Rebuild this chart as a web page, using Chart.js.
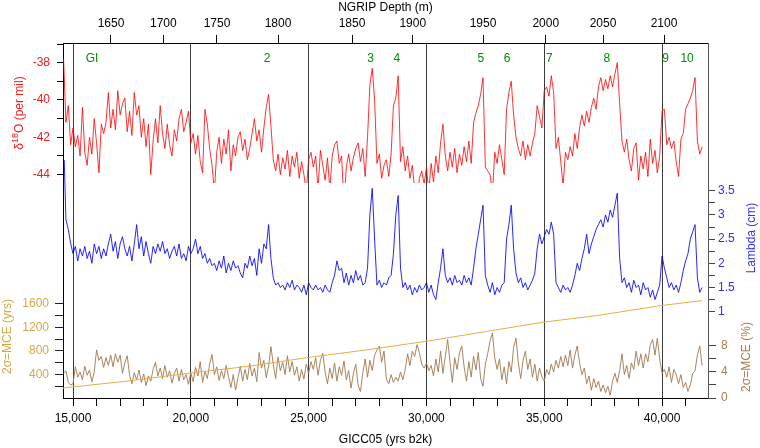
<!DOCTYPE html>
<html><head><meta charset="utf-8">
<script src="https://cdn.jsdelivr.net/npm/chart.js@4.4.1/dist/chart.umd.min.js"></script>
<style>html,body{margin:0;padding:0;background:#fff;}canvas{display:block;}</style>
</head><body>
<canvas id="c" width="760" height="448"></canvas>
<script>
// ---- data (GICC05 age grid, 100-yr sampling from 14600 yrs b2k) ----
const ageStart = 14600, ageStep = 100;
const d18O = [
-37.8,-41.2,-40.3,-42.4,-41.5,-42.5,-41.9,-43.0,-40.4,-42.8,
-43.5,-42.0,-42.9,-41.0,-42.3,-43.9,-41.3,-41.8,-41.2,-39.6,
-41.5,-40.5,-41.6,-39.5,-40.8,-40.2,-39.9,-41.7,-40.6,-41.9,
-39.6,-40.8,-40.3,-42.0,-41.0,-42.5,-41.3,-44.0,-42.2,-41.0,
-42.3,-40.3,-41.8,-42.6,-41.3,-42.4,-43.0,-41.6,-42.2,-41.0,
-40.5,-41.7,-41.2,-40.6,-42.3,-41.8,-42.9,-41.9,-43.3,-43.9,
-40.5,-41.3,-42.6,-43.5,-44.9,-42.8,-42.0,-43.4,-42.1,-42.9,
-41.6,-43.8,-42.4,-43.0,-42.0,-41.7,-42.7,-42.1,-43.2,-42.6,
-41.8,-41.0,-42.2,-41.6,-42.8,-41.5,-40.4,-39.7,-41.4,-43.2,
-43.8,-42.9,-44.0,-43.1,-43.7,-42.7,-44.1,-43.0,-43.6,-42.8,
-44.2,-43.3,-44.0,-44.9,-43.2,-42.8,-43.6,-43.0,-44.8,-42.7,
-43.5,-44.3,-43.1,-44.8,-43.0,-42.4,-42.2,-43.4,-43.0,-45.6,
-43.6,-42.9,-43.8,-43.1,-42.6,-42.3,-43.3,-42.6,-44.1,-42.0,
-39.2,-38.3,-40.0,-43.4,-42.9,-44.2,-43.5,
-43.2,-44.1,-42.9,-40.3,-39.9,-38.7,-43.3,-42.5,-43.8,-43.0,
-44.2,-43.5,-44.8,-45.5,-44.2,-43.8,-44.5,-43.6,-44.9,-43.4,
-44.4,-43.0,-43.9,-42.3,-41.3,-43.0,-43.8,-42.8,-43.6,-42.6,
-43.9,-42.9,-43.5,-42.5,-43.3,-42.2,-43.4,-41.2,-40.7,-40.3,
-39.7,-38.8,-43.6,-43.8,-44.0,-45.0,-42.8,-43.4,-42.4,-43.2,
-44.0,-40.5,-39.6,-39.0,-40.8,-42.0,-42.6,-43.0,-42.2,-43.2,
-42.4,-43.0,-42.3,-41.8,-40.3,-40.9,-41.5,-39.5,-39.3,-39.8,
-38.7,-39.6,-42.6,-42.0,-43.3,-44.6,-42.8,-43.2,-42.5,-43.0,
-41.8,-42.6,-41.5,-40.8,-41.4,-40.6,-41.2,-40.4,-39.9,-40.5,
-39.3,-38.8,-39.5,-38.9,-39.4,-38.7,-39.3,-38.6,-38.0,-40.2,
-42.2,-42.8,-42.1,-43.2,-43.8,-42.6,-42.3,-44.3,-43.0,-43.7,
-42.8,-44.1,-42.1,-43.4,-42.7,-43.9,-43.0,-40.6,-40.5,-42.4,
-42.0,-42.6,-42.2,-43.3,-44.1,-42.1,-41.8,-40.5,-40.2,-39.9,
-39.5,-38.8,-42.2,-42.9,-42.5
];
const lambda = [
4.6,2.9,2.7,2.41,2.2,2.35,2.05,2.3,2.15,2.35,
2.1,2.25,2.0,2.4,2.2,2.35,2.1,2.3,2.15,2.4,
2.6,2.25,2.45,2.1,2.4,2.55,2.3,2.15,2.35,2.05,
2.4,2.8,2.3,2.55,2.15,2.45,2.2,2.0,2.35,2.2,
2.4,2.25,2.45,2.2,2.3,2.1,2.25,2.35,2.15,2.4,
2.1,2.2,2.05,2.35,2.2,2.3,2.5,2.2,2.35,2.1,
2.2,2.0,2.1,1.95,2.0,1.85,2.05,1.9,2.15,1.8,
2.0,1.85,2.05,1.9,1.95,1.8,1.7,2.0,1.9,2.15,
1.95,2.1,1.75,2.3,2.0,2.4,2.3,2.8,2.1,1.7,
1.55,1.6,1.5,1.55,1.45,1.6,1.5,1.65,1.45,1.55,
1.5,1.4,1.55,1.35,1.6,1.5,1.45,1.55,1.45,1.5,
1.4,1.55,1.45,1.4,1.6,1.75,2.05,1.85,1.9,1.6,
1.8,1.55,1.75,1.6,1.85,1.65,1.75,1.55,1.6,1.9,
3.0,3.55,2.5,1.55,1.65,1.5,1.6,
1.55,1.7,1.75,2.2,3.0,3.4,1.9,1.5,1.6,1.45,
1.55,1.35,1.5,1.4,1.55,1.45,1.5,1.6,1.4,1.55,
1.35,1.25,1.6,1.9,2.3,1.75,1.6,1.7,1.55,1.75,
1.6,1.65,1.55,1.75,1.6,1.7,1.55,1.9,2.3,2.6,
2.9,3.2,1.75,1.55,1.4,1.6,1.35,1.5,1.4,1.55,
1.6,2.5,2.8,3.2,2.3,1.8,1.6,1.7,1.5,1.6,
1.45,1.55,1.65,1.8,2.3,2.6,2.4,2.55,2.7,2.6,
2.85,2.6,1.6,1.5,1.4,1.55,1.45,1.5,1.4,1.55,
1.75,2.0,1.85,2.1,2.3,2.6,2.2,2.4,2.55,2.7,
2.8,2.9,2.75,3.0,2.85,3.1,2.95,3.2,3.45,2.1,
1.6,1.7,1.5,1.6,1.4,1.65,1.5,1.55,1.35,1.6,
1.45,1.5,1.3,1.45,1.25,1.4,1.55,2.15,1.9,1.7,
1.5,1.6,1.45,1.55,1.4,1.6,1.85,2.05,2.2,2.5,
2.65,2.8,1.7,1.4,1.5
];
const mcePct = [
3.8,4.2,2.4,2.0,2.2,4.8,3.2,4.0,2.8,4.9,
3.5,4.3,2.5,4.0,7.4,5.8,6.4,4.7,6.2,5.0,
6.6,4.8,6.8,5.5,6.6,3.8,5.4,6.5,3.5,2.2,
3.9,2.8,4.3,2.4,3.7,1.9,3.4,2.6,4.4,5.5,
3.4,4.6,3.0,5.0,3.2,4.2,2.3,3.8,4.6,2.6,
4.4,2.8,3.6,2.1,3.9,2.5,4.7,3.4,5.6,2.4,
4.1,3.0,5.2,6.7,3.6,4.8,2.7,4.2,3.0,5.0,
3.3,1.6,3.6,1.2,3.1,4.9,2.6,4.4,2.8,5.3,
3.4,4.6,2.5,7.0,4.6,5.8,3.1,4.9,7.9,5.2,
3.0,6.3,4.2,5.5,3.6,6.5,4.0,5.6,3.5,4.8,
2.6,4.4,2.9,5.2,3.8,5.6,4.4,6.2,3.5,5.8,
6.9,4.0,2.2,4.6,3.0,5.4,2.6,4.8,3.5,5.7,
2.8,4.2,1.5,3.8,5.2,2.0,1.0,3.9,6.0,3.2,
5.8,4.2,6.6,7.4,8.0,5.5,7.2,2.9,2.2,3.6,
2.4,3.2,2.6,4.0,2.8,4.4,6.8,5.0,7.2,6.4,
8.2,7.0,5.2,4.6,5.4,4.2,5.0,3.4,6.0,4.0,
7.2,3.8,6.4,9.0,5.5,2.4,6.2,4.4,6.9,8.0,
4.8,2.6,5.6,3.2,6.4,4.3,7.0,3.0,1.8,5.2,
6.8,8.8,10.0,6.2,4.4,6.0,2.8,4.8,2.2,5.6,
4.0,7.8,9.2,5.4,3.0,5.8,7.2,4.4,6.0,3.2,
5.2,2.6,4.6,3.3,2.6,4.4,3.6,5.2,4.0,5.8,
4.6,6.4,4.8,6.6,5.0,7.4,4.6,6.6,8.0,5.4,
3.6,4.6,2.2,3.4,1.2,3.0,1.6,2.6,1.0,2.0,
0.8,1.8,0.4,2.6,3.8,2.4,4.2,6.8,3.6,5.0,
3.0,5.4,4.4,7.2,5.0,6.8,4.6,6.8,5.6,8.2,
9.0,6.6,9.2,6.0,3.8,4.4,3.2,4.8,2.4,4.4,
3.6,2.2,3.6,1.6,2.4,1.0,2.0,3.8,4.2,6.6,
8.0,5.0
];
const mceAges = [14580,17190,19980,22420,24990,27480,29940,32540,34950,37250,39950,41700];
const mceYrs  = [170,283,425,538,690,820,962,1132,1290,1404,1573,1658];

const ageTicks = [15000,16000,17000,18000,19000,20000,21000,22000,23000,24000,25000,26000,27000,28000,29000,30000,31000,32000,33000,34000,35000,36000,37000,38000,39000,40000,41000];
const depthLabels = ['1650','1700','1750','1800','1850','1900','1950','2000','2050','2100'];
const depthAges   = [16612,18832,21111,23701,26842,29418,32402,35063,37495,40084];
const giLabels = ['GI','2','3','4','5','6','7','8','9','10'];
const giAges   = [15806,23234,27627,28743,32308,33420,35216,37656,40148,41061];
const d18OTicks   = [-44,-43,-42,-41,-40,-39,-38,-37];
const lambdaTicks = [1,1.25,1.5,1.75,2,2.25,2.5,2.75,3,3.25,3.5];
const mceYrsTicks = [200,400,600,800,1000,1200,1400,1600];
const mcePctTicks = [0,2,4,6,8];

// ---- chart ----
const FAM = "'Liberation Sans', Arial, sans-serif";
const FONT = {family: FAM, size: 12};
const ages = d18O.map((_, i) => ageStart + ageStep * i);
const pts = (xs, ys) => ys.map((v, i) => ({x: xs[i], y: v}));
const fixW = w => s => { s.width = w; };
const fixH = h => s => { s.height = h; };
const setTicks = arr => s => { s.ticks = arr.map(v => ({value: v})); };
const AGE_MIN = 14575, AGE_MAX = 41950;

function rotText(ctx, parts, x, y, color) {
  ctx.save();
  ctx.translate(x, y);
  ctx.rotate(-Math.PI / 2);
  ctx.fillStyle = color;
  ctx.textBaseline = 'middle';
  ctx.textAlign = 'left';
  let total = 0;
  parts.forEach(p => { ctx.font = p.size + 'px ' + FAM; p.w = ctx.measureText(p.t).width; total += p.w; });
  let cx = -total / 2;
  parts.forEach(p => { ctx.font = p.size + 'px ' + FAM; ctx.fillText(p.t, cx, p.dy || 0); cx += p.w; });
  ctx.restore();
}

const annot = {
  id: 'annot',
  afterDraw(chart) {
    const ctx = chart.ctx, xs = chart.scales.x, S = chart.scales;
    ctx.save();
    ctx.font = '12px ' + FAM;
    ctx.fillStyle = 'rgb(0,140,0)';
    ctx.textAlign = 'center';
    ctx.textBaseline = 'middle';
    giLabels.forEach((t, i) => ctx.fillText(t, xs.getPixelForValue(giAges[i]), chart.chartArea.top + 16));
    ctx.restore();
    const mid = s => (s.top + s.bottom) / 2;
    rotText(ctx, [{t: 'δ', size: 12}, {t: '18', size: 9, dy: -4}, {t: 'O (per mil)', size: 12}], 20, mid(S.yD), '#f01c1c');
    rotText(ctx, [{t: '2σ=MCE (yrs)', size: 12}], 8, mid(S.yY), '#d9a646');
    rotText(ctx, [{t: 'Lambda (cm)', size: 12}], 752, mid(S.yL), '#3030ff');
    rotText(ctx, [{t: '2σ=MCE (%)', size: 12}], 747, mid(S.yP), '#aa7d50');
  }
};

const blankAxis = (pos, stack, sw, wt, w, col) => ({
  type: 'linear', position: pos, stack: stack, stackWeight: sw, weight: wt, min: 0, max: 1, bounds: 'data',
  afterBuildTicks: s => { s.ticks = []; }, afterFit: fixW(w),
  ticks: {display: false}, grid: {display: false}, border: {display: true, color: col}
});

new Chart(document.getElementById('c'), {
  type: 'line',
  data: {
    datasets: [
      {data: pts(ages, d18O), yAxisID: 'yD', xAxisID: 'x', borderColor: 'rgba(255,0,0,0.8)', borderWidth: 1, pointRadius: 0, tension: 0},
      {data: pts(ages, lambda), yAxisID: 'yL', xAxisID: 'x', borderColor: 'rgba(0,0,255,0.85)', borderWidth: 1, pointRadius: 0, tension: 0},
      {data: pts(mceAges, mceYrs), yAxisID: 'yY', xAxisID: 'x', borderColor: '#e8ac48', borderWidth: 1, pointRadius: 0, tension: 0},
      {data: pts(ages, mcePct), yAxisID: 'yP', xAxisID: 'x', borderColor: 'rgba(160,120,80,0.9)', borderWidth: 1, pointRadius: 0, tension: 0}
    ]
  },
  options: {
    responsive: false, maintainAspectRatio: false, animation: false, events: [],
    layout: {padding: 0},
    plugins: {legend: {display: false}, tooltip: {enabled: false}},
    scales: {
      x: {
        type: 'linear', position: 'bottom', min: AGE_MIN, max: AGE_MAX, bounds: 'data',
        afterBuildTicks: setTicks(ageTicks), afterFit: fixH(50),
        ticks: {font: FONT, color: '#000', padding: 5, maxRotation: 0, autoSkip: false,
                callback: v => (v % 5000 === 0 ? v.toLocaleString('en-US') : '')},
        grid: {drawOnChartArea: true, tickLength: 8, tickColor: '#000', lineWidth: 1,
               color: c => (c.tick && c.tick.value % 5000 === 0) ? '#3c3c3c' : 'rgba(0,0,0,0)'},
        border: {display: true, color: '#000'},
        title: {display: true, text: 'GICC05 (yrs b2k)', font: FONT, color: '#000', padding: {top: 0, bottom: 1}}
      },
      x2: {
        type: 'linear', position: 'top', min: AGE_MIN, max: AGE_MAX, bounds: 'data',
        afterBuildTicks: setTicks(depthAges), afterFit: fixH(43),
        ticks: {font: FONT, color: '#000', padding: 4, maxRotation: 0, autoSkip: false,
                callback: (v, i) => depthLabels[i]},
        grid: {drawOnChartArea: false, tickLength: 8, tickColor: '#000'},
        border: {display: true, color: '#000'},
        title: {display: true, text: 'NGRIP Depth (m)', font: FONT, color: '#000', padding: {top: 0, bottom: 0}}
      },
      yD: {
        type: 'linear', position: 'left', stack: 'L', stackWeight: 140, weight: 3,
        min: -44.45, max: -36.944, bounds: 'data',
        afterBuildTicks: setTicks(d18OTicks), afterFit: fixW(63),
        ticks: {font: FONT, color: '#f01c1c', padding: 7, autoSkip: false,
                callback: v => (v % 2 === 0 ? String(v) : '')},
        grid: {drawOnChartArea: false, tickLength: 6, tickColor: '#000'},
        border: {display: true, color: '#000'}
      },
      yGap: blankAxis('left', 'L', 92, 2, 63, '#000'),
      yY: {
        type: 'linear', position: 'left', stack: 'L', stackWeight: 123, weight: 1,
        min: 0, max: 2093.6, bounds: 'data',
        afterBuildTicks: setTicks(mceYrsTicks), afterFit: fixW(63),
        ticks: {font: FONT, color: '#d9a646', padding: 6, autoSkip: false,
                callback: v => (v % 400 === 0 ? String(v) : '')},
        grid: {drawOnChartArea: false, tickLength: 8, tickColor: '#222'},
        border: {display: true, color: '#000'}
      },
      rTop: blankAxis('right', 'R', 117, 1, 52, '#555'),
      yL: {
        type: 'linear', position: 'right', stack: 'R', stackWeight: 156, weight: 2,
        min: 0.9112, max: 4.1343, bounds: 'data',
        afterBuildTicks: setTicks(lambdaTicks), afterFit: fixW(52),
        ticks: {font: FONT, color: '#3030ff', padding: 3, autoSkip: false,
                callback: v => ((v * 2) % 1 === 0 ? String(v) : '')},
        grid: {drawOnChartArea: false, tickLength: 7, tickColor: '#444'},
        border: {display: true, color: '#555'}
      },
      yP: {
        type: 'linear', position: 'right', stack: 'R', stackWeight: 82, weight: 3,
        min: 0, max: 12.615, bounds: 'data',
        afterBuildTicks: setTicks(mcePctTicks), afterFit: fixW(52),
        ticks: {font: FONT, color: '#aa7d50', padding: 5, autoSkip: false,
                callback: v => (v % 4 === 0 ? String(v) : '')},
        grid: {drawOnChartArea: false, tickLength: 8, tickColor: '#444'},
        border: {display: true, color: '#555'}
      }
    }
  },
  plugins: [annot]
});
</script>
</body></html>
